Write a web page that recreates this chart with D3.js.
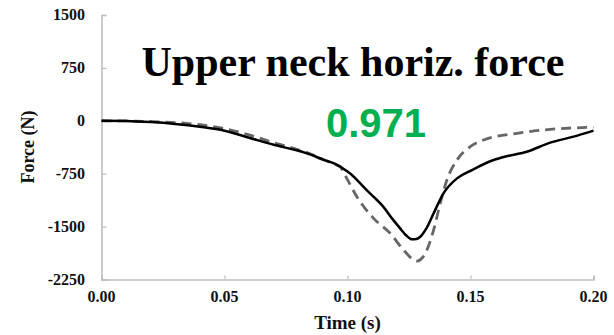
<!DOCTYPE html>
<html>
<head>
<meta charset="utf-8">
<script src="https://cdn.jsdelivr.net/npm/d3@7/dist/d3.min.js"></script>
<style>
  html, body { margin: 0; padding: 0; background: #fff; }
  svg { display: block; }
</style>
</head>
<body>
<svg id="chart" width="614" height="335"></svg>
<script>
// Upper neck horizontal force over time: two traces (solid and dashed)
const timeSolid  = [0, 0.01, 0.02, 0.03, 0.04, 0.05, 0.06, 0.07, 0.08, 0.085, 0.09, 0.095, 0.1, 0.102, 0.105, 0.108, 0.111, 0.1146, 0.118, 0.1214, 0.124, 0.1262, 0.128, 0.1296, 0.132, 0.135, 0.139, 0.1445, 0.1506, 0.1594, 0.165, 0.1729, 0.1824, 0.1919, 0.2];
const forceSolid = [0, -3, -18, -45, -85, -140, -240, -340, -425, -480, -550, -610, -720, -775, -880, -990, -1090, -1220, -1380, -1525, -1630, -1681, -1675, -1644, -1530, -1312, -1028, -816, -698, -556, -500, -438, -310, -225, -140];

const timeDashed  = [0, 0.01, 0.02, 0.03, 0.04, 0.05, 0.06, 0.07, 0.08, 0.085, 0.09, 0.095, 0.097, 0.0997, 0.1038, 0.1106, 0.1174, 0.1228, 0.1282, 0.1316, 0.135, 0.1377, 0.1404, 0.1445, 0.1499, 0.1553, 0.1689, 0.1824, 0.2];
const forceDashed = [0, -2, -10, -25, -55, -110, -200, -310, -410, -470, -545, -620, -650, -816, -1076, -1383, -1596, -1833, -1989, -1880, -1549, -1170, -840, -556, -367, -272, -177, -121, -92];

const xTicks = [0, 0.05, 0.10, 0.15, 0.20];
const yTicks = [1500, 750, 0, -750, -1500, -2250];

const titleText = "Upper neck horiz. force";
const scoreText = "0.971";

const svg = d3.select("#chart");
const plotLeft = 101.5, plotRight = 593.5, plotTop = 15, plotBottom = 279.5;

const x = d3.scaleLinear().domain([0, 0.2]).range([plotLeft, plotRight]);
const y = d3.scaleLinear().domain([-2250, 1500]).range([plotBottom, plotTop]);

const axisColor = "#bfbfbf";
const serif = "'Liberation Serif', 'Times New Roman', serif";

// Axes: ticks point into the plot area
const xAxis = svg.append("g")
  .attr("transform", `translate(0,${plotBottom})`)
  .call(d3.axisTop(x).tickValues(xTicks).tickSize(4).tickFormat(""));
const yAxis = svg.append("g")
  .attr("transform", `translate(${plotLeft},0)`)
  .call(d3.axisRight(y).tickValues(yTicks).tickSize(5).tickFormat(""));
[xAxis, yAxis].forEach(g => {
  g.selectAll("path.domain").attr("stroke", axisColor).attr("stroke-width", 1.6);
  g.selectAll(".tick line").attr("stroke", axisColor).attr("stroke-width", 1.2);
});

// Tick labels
svg.append("g").selectAll("text").data(xTicks).join("text")
  .attr("x", d => x(d)).attr("y", 302)
  .attr("text-anchor", "middle")
  .attr("font-family", serif).attr("font-weight", "bold").attr("font-size", 16)
  .attr("fill", "#111")
  .text(d => d3.format(".2f")(d));

svg.append("g").selectAll("text").data(yTicks).join("text")
  .attr("x", 85).attr("y", d => y(d) + 5)
  .attr("text-anchor", "end")
  .attr("font-family", serif).attr("font-weight", "bold").attr("font-size", 16)
  .attr("fill", "#111")
  .text(d => String(d));

// Axis titles
svg.append("text")
  .attr("x", (plotLeft + plotRight) / 2).attr("y", 329)
  .attr("text-anchor", "middle")
  .attr("font-family", serif).attr("font-weight", "bold").attr("font-size", 19)
  .attr("fill", "#111")
  .text("Time (s)");

svg.append("text")
  .attr("transform", "translate(34,147) rotate(-90)")
  .attr("text-anchor", "middle")
  .attr("font-family", serif).attr("font-weight", "bold").attr("font-size", 18)
  .attr("fill", "#111")
  .text("Force (N)");

// Traces
const line = d3.line().curve(d3.curveMonotoneX);

svg.append("path")
  .datum(timeDashed.map((t, i) => [x(t), y(forceDashed[i])]))
  .attr("d", line)
  .attr("fill", "none")
  .attr("stroke", "#666")
  .attr("stroke-width", 2.8)
  .attr("stroke-dasharray", "10,6");

svg.append("path")
  .datum(timeSolid.map((t, i) => [x(t), y(forceSolid[i])]))
  .attr("d", line)
  .attr("fill", "none")
  .attr("stroke", "#000")
  .attr("stroke-width", 2.5);

// Heading and score
svg.append("text")
  .attr("x", 353).attr("y", 76)
  .attr("text-anchor", "middle")
  .attr("font-family", serif).attr("font-weight", "bold").attr("font-size", 42)
  .attr("fill", "#000")
  .text(titleText);

svg.append("text")
  .attr("x", 326).attr("y", 137)
  .attr("font-family", "'Liberation Sans', Arial, sans-serif").attr("font-weight", "bold").attr("font-size", 40)
  .attr("fill", "#00b050")
  .text(scoreText);
</script>
</body>
</html>
